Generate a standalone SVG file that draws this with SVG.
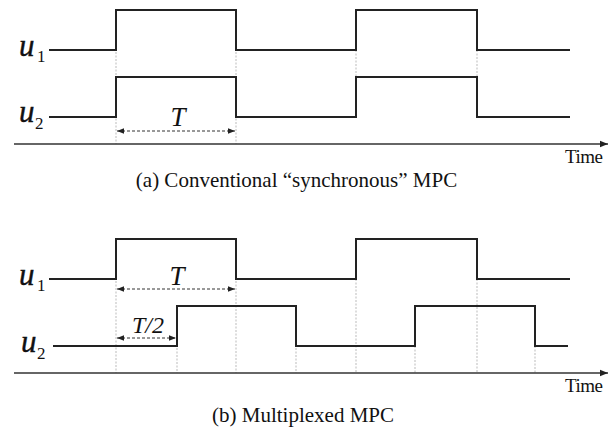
<svg xmlns="http://www.w3.org/2000/svg" width="610" height="436" viewBox="0 0 610 436">
<defs>
<style>
.sig{fill:none;stroke:#222;stroke-width:2;stroke-linejoin:miter}
.axis{fill:none;stroke:#333;stroke-width:1.3}
.guide{fill:none;stroke:#aaa;stroke-width:0.8;stroke-dasharray:2,1.5}
.dim{fill:none;stroke:#333;stroke-width:1;stroke-dasharray:3,2}
text{font-family:'Liberation Serif','Times New Roman',serif;fill:#111}
.lbl{font-style:italic}
.u{font-style:italic;font-size:31px;stroke:#111;stroke-width:0.4}
.sub{font-size:17px}
.cap{font-size:21px}
.time{font-size:19px}
</style>
<marker id="ah" viewBox="0 0 10 10" refX="10" refY="5" markerWidth="7" markerHeight="7" markerUnits="userSpaceOnUse" orient="auto-start-reverse">
<path d="M0,1 L10,5 L0,9 z" fill="#222"/>
</marker>
<marker id="ax" viewBox="0 0 10 10" refX="10" refY="5" markerWidth="8" markerHeight="8" markerUnits="userSpaceOnUse" orient="auto">
<path d="M0,1 L10,5 L0,9 z" fill="#222"/>
</marker>
</defs>
<rect width="610" height="436" fill="#fff"/>

<g id="guides">
<path class="guide" d="M116,10V144 M236,10V144 M356,50V77 M477,50V77"/>
<path class="guide" d="M116,239V373 M236,239V373 M177,306V373 M296,306V373 M356,279V373 M477,279V373 M415,346V373 M535,346V373"/>
</g>

<g id="panel-a">
<g id="a-u1"><path class="sig" d="M49,50H116V10H236V50H356V10H477V50H570"/>
<text class="u" x="19" y="56">u</text><text class="sub" x="37" y="62">1</text></g>
<g id="a-u2"><path class="sig" d="M49,117H116V77H236V117H356V77H477V117H570"/>
<text class="u" x="19" y="122">u</text><text class="sub" x="35" y="129">2</text></g>
<g id="a-axis"><line class="axis" x1="14" y1="144" x2="608" y2="144" marker-end="url(#ax)"/>
<text class="time" x="565" y="163" textLength="38">Time</text></g>
<g id="a-T"><line class="dim" x1="117" y1="131" x2="235" y2="131" marker-start="url(#ah)" marker-end="url(#ah)"/>
<text class="lbl" x="178" y="126" font-size="27" text-anchor="middle">T</text></g>
<text id="cap-a" class="cap" x="296.5" y="187" text-anchor="middle">(a) Conventional “synchronous” MPC</text>
</g>

<g id="panel-b">
<g id="b-u1"><path class="sig" d="M49,279H116V239H236V279H356V239H477V279H570"/>
<text class="u" x="19" y="285">u</text><text class="sub" x="37" y="291">1</text></g>
<g id="b-u2"><path class="sig" d="M53,346H177V306H296V346H415V306H535V346H568"/>
<text class="u" x="21" y="352">u</text><text class="sub" x="37" y="359">2</text></g>
<g id="b-axis"><line class="axis" x1="14" y1="373" x2="608" y2="373" marker-end="url(#ax)"/>
<text class="time" x="565" y="392" textLength="38">Time</text></g>
<g id="b-T"><line class="dim" x1="117" y1="289" x2="235" y2="289" marker-start="url(#ah)" marker-end="url(#ah)"/>
<text class="lbl" x="177" y="285" font-size="27" text-anchor="middle">T</text></g>
<g id="b-T2"><line class="dim" x1="117" y1="338" x2="176" y2="338" marker-start="url(#ah)" marker-end="url(#ah)"/>
<text class="lbl" x="148" y="333" font-size="24" text-anchor="middle">T/2</text></g>
<text id="cap-b" class="cap" x="303" y="422" text-anchor="middle">(b) Multiplexed MPC</text>
</g>
</svg>
